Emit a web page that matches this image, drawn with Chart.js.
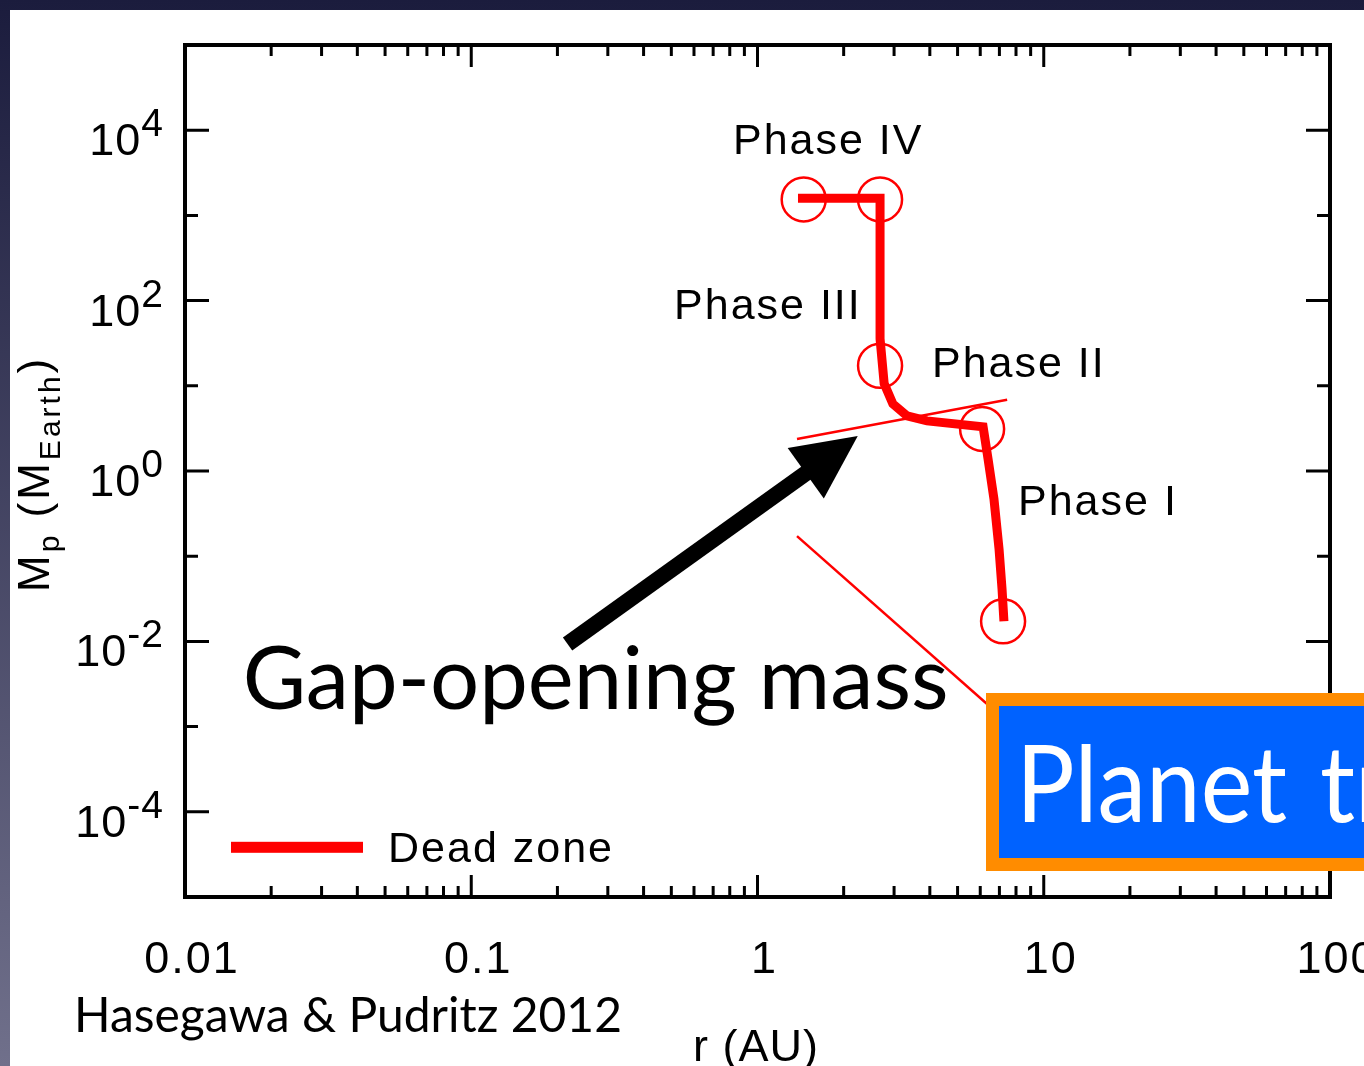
<!DOCTYPE html>
<html>
<head>
<meta charset="utf-8">
<script src="https://cdn.jsdelivr.net/npm/chart.js@4.4.0/dist/chart.umd.min.js"></script>
<style>
html, body { margin: 0; padding: 0; overflow: hidden; background: #fff; }
canvas { display: block; }
</style>
</head>
<body>
<canvas id="myChart" width="1364" height="1066"></canvas>
<script>
// Planet track: orbital radius (AU) and mass (M_Earth)
const trackR = [7.26, 7.15, 6.98, 6.70, 6.39, 6.14, 3.91, 3.33, 2.97, 2.77, 2.68, 2.68, 1.385];
const trackM = [0.0172, 0.0409, 0.121, 0.469, 1.38, 3.3, 3.87, 4.43, 6.14, 10.6, 35.7, 1585, 1585];

// Open circles marking the phase transitions
const markerR = [1.45, 2.68, 2.68, 6.09, 7.21];
const markerM = [1540, 1540, 17.2, 3.12, 0.0172];

// Gap-opening mass line and the dead zone line
const gapR = [1.374, 7.45];
const gapM = [2.38, 6.84];
const deadR = [1.374, 9.7];
const deadM = [0.172, 0.00052];

// Axis ticks
const xTicks = [0.01, 0.1, 1, 10, 100];
const xTickLabels = ["0.01", "0.1", "1", "10", "100"];
const yTicks = [1e4, 1e2, 1, 1e-2, 1e-4];
const yTickExp = ["4", "2", "0", "-2", "-4"];

// Phase labels (anchored in data space)
const phaseLabels = ["Phase IV", "Phase III", "Phase II", "Phase I"];
const phaseR = [0.821, 0.511, 4.07, 8.13];
const phaseM = [5220, 61.4, 12.8, 0.303];

// Arrow pointing to the gap-opening mass line
const arrowR = [0.217, 2.24];
const arrowM = [0.0093, 2.58];
const gapTextR = 0.0159;
const gapTextM = 0.00160;

const RED = "#ff0000";
const toXY = (rs, ms) => rs.map((r, i) => ({ x: r, y: ms[i] }));

const textFont = "'Liberation Sans', Arial, sans-serif";
const slideFont = "Lato, 'Open Sans', sans-serif";

const slidePlugin = {
    id: "slide",
    beforeDraw(chart) {
        const ctx = chart.ctx;
        const W = chart.width, H = chart.height;
        ctx.save();
        const g = ctx.createLinearGradient(0, 0, 0, H);
        g.addColorStop(0, "#1b1c3d");
        g.addColorStop(1, "#70708b");
        ctx.fillStyle = g;
        ctx.fillRect(0, 0, W, H);
        ctx.fillStyle = "#ffffff";
        ctx.fillRect(10, 10, W - 10, H - 10);
        ctx.restore();
    },
    afterDatasetsDraw(chart) {
        const ctx = chart.ctx;
        const a = chart.chartArea;
        const xs = chart.scales.x, ys = chart.scales.y;
        ctx.save();

        // frame
        ctx.strokeStyle = "#000";
        ctx.lineWidth = 4;
        ctx.strokeRect(a.left, a.top, a.right - a.left, a.bottom - a.top);

        // x ticks (inward, top and bottom)
        ctx.lineWidth = 3;
        ctx.beginPath();
        for (let d = -2; d <= 1; d++) {
            for (let k = 1; k <= 9; k++) {
                if (k === 1 && d === -2) continue;
                const px = xs.getPixelForValue(k * Math.pow(10, d));
                const len = k === 1 ? 22 : 11;
                ctx.moveTo(px, a.bottom); ctx.lineTo(px, a.bottom - len);
                ctx.moveTo(px, a.top); ctx.lineTo(px, a.top + len);
            }
        }
        // y ticks (inward, left and right)
        for (let e = -4; e <= 4; e++) {
            const py = ys.getPixelForValue(Math.pow(10, e));
            const len = e % 2 === 0 ? 24 : 13;
            ctx.moveTo(a.left, py); ctx.lineTo(a.left + len, py);
            ctx.moveTo(a.right, py); ctx.lineTo(a.right - len, py);
        }
        ctx.stroke();

        ctx.fillStyle = "#000";
        // x tick labels
        ctx.font = "45px " + textFont;
        ctx.letterSpacing = "2px";
        ctx.textAlign = "center";
        ctx.textBaseline = "alphabetic";
        xTicks.forEach((v, i) => {
            ctx.fillText(xTickLabels[i], xs.getPixelForValue(v) + 7, a.bottom + 76);
        });

        // y tick labels 10^n
        ctx.textAlign = "left";
        ctx.letterSpacing = "1px";
        yTicks.forEach((v, i) => {
            const py = ys.getPixelForValue(v);
            ctx.font = "39px " + textFont;
            const ew = ctx.measureText(yTickExp[i]).width;
            ctx.font = "45px " + textFont;
            const bw = ctx.measureText("10").width;
            const right = 164;
            ctx.fillText("10", right - ew - bw, py + 25);
            ctx.font = "39px " + textFont;
            ctx.fillText(yTickExp[i], right - ew, py + 6);
        });

        // axis titles
        ctx.font = "45px " + textFont;
        ctx.textAlign = "center";
        ctx.fillText("r (AU)", 756, 1061);

        ctx.save();
        ctx.translate(49, 592);
        ctx.rotate(-Math.PI / 2);
        ctx.textAlign = "left";
        ctx.letterSpacing = "3px";
        const parts = [["M", 44, 0], ["p", 30, 10], [" (M", 44, 0], ["Earth", 30, 11], [")", 44, 0]];
        let tx = 0;
        parts.forEach(p => {
            ctx.font = p[1] + "px " + textFont;
            ctx.fillText(p[0], tx, p[2]);
            tx += ctx.measureText(p[0]).width;
        });
        ctx.restore();

        // phase labels
        ctx.font = "43px " + textFont;
        ctx.letterSpacing = "2px";
        ctx.textAlign = "left";
        phaseLabels.forEach((t, i) => {
            ctx.fillText(t, xs.getPixelForValue(phaseR[i]), ys.getPixelForValue(phaseM[i]));
        });

        // legend
        const ly = ys.getPixelForValue(1e-4) + 35;
        ctx.fillStyle = RED;
        ctx.fillRect(a.left + 46, ly - 5, 132, 11);
        ctx.fillStyle = "#000";
        ctx.font = "43px " + textFont;
        ctx.fillText("Dead zone", a.left + 203, ly + 15);
        ctx.letterSpacing = "0px";

        // arrow
        const x0 = xs.getPixelForValue(arrowR[0]), y0 = ys.getPixelForValue(arrowM[0]);
        const x1 = xs.getPixelForValue(arrowR[1]), y1 = ys.getPixelForValue(arrowM[1]);
        const dx = x1 - x0, dy = y1 - y0, L = Math.hypot(dx, dy);
        const ux = dx / L, uy = dy / L, nx = -uy, ny = ux;
        const headLen = 64, headHalf = 31;
        const bx = x1 - ux * headLen, by = y1 - uy * headLen;
        ctx.strokeStyle = "#000";
        ctx.lineWidth = 16;
        ctx.lineCap = "butt";
        ctx.beginPath();
        ctx.moveTo(x0, y0);
        ctx.lineTo(bx + ux * 4, by + uy * 4);
        ctx.stroke();
        ctx.fillStyle = "#000";
        ctx.beginPath();
        ctx.moveTo(x1, y1);
        ctx.lineTo(bx + nx * headHalf, by + ny * headHalf);
        ctx.lineTo(bx - nx * headHalf, by - ny * headHalf);
        ctx.closePath();
        ctx.fill();

        // "Gap-opening mass"
        ctx.font = "87px " + slideFont;
        ctx.fillText("Gap-opening mass", xs.getPixelForValue(gapTextR), ys.getPixelForValue(gapTextM), 706);

        // slide overlay box
        ctx.fillStyle = "#ff8c00";
        ctx.fillRect(986, 693, chart.width - 986, 178);
        ctx.fillStyle = "#0062ff";
        ctx.fillRect(999, 706, chart.width - 999, 152);
        ctx.save();
        ctx.beginPath();
        ctx.rect(999, 706, chart.width - 999, 152);
        ctx.clip();
        ctx.fillStyle = "#ffffff";
        ctx.font = "107px " + slideFont;
        const pw = ctx.measureText("Planet").width;
        ctx.fillText("Planet", 1016, 822, 271);
        ctx.fillText("traps", 1320, 822, pw ? 271 * ctx.measureText("traps").width / pw : undefined);
        ctx.restore();

        // citation
        ctx.fillStyle = "#000";
        ctx.font = "49px " + slideFont;
        ctx.fillText("Hasegawa & Pudritz 2012", 74, 1032, 548);

        ctx.restore();
    }
};

const ctx = document.getElementById("myChart").getContext("2d");
const chart = new Chart(ctx, {
    type: "scatter",
    data: {
        datasets: [
            {
                label: "Dead zone",
                data: toXY(trackR, trackM),
                showLine: true,
                borderColor: RED,
                borderWidth: 9,
                borderJoinStyle: "miter",
                pointRadius: 0
            },
            {
                label: "phases",
                data: toXY(markerR, markerM),
                showLine: false,
                pointRadius: 22,
                pointBorderWidth: 2.5,
                pointBorderColor: RED,
                pointBackgroundColor: "rgba(0,0,0,0)"
            },
            {
                label: "gap-opening mass",
                data: toXY(gapR, gapM),
                showLine: true,
                borderColor: RED,
                borderWidth: 2.5,
                pointRadius: 0
            },
            {
                label: "dead zone edge",
                data: toXY(deadR, deadM),
                showLine: true,
                borderColor: RED,
                borderWidth: 2.5,
                pointRadius: 0
            }
        ]
    },
    options: {
        responsive: false,
        animation: false,
        events: [],
        layout: { padding: { left: 185, top: 45, right: 34, bottom: 169 } },
        scales: {
            x: { type: "logarithmic", min: 0.01, max: 100, display: false },
            y: { type: "logarithmic", min: 1e-5, max: 1e5, display: false }
        },
        plugins: {
            legend: { display: false },
            tooltip: { enabled: false }
        }
    },
    plugins: [slidePlugin]
});
</script>
</body>
</html>
